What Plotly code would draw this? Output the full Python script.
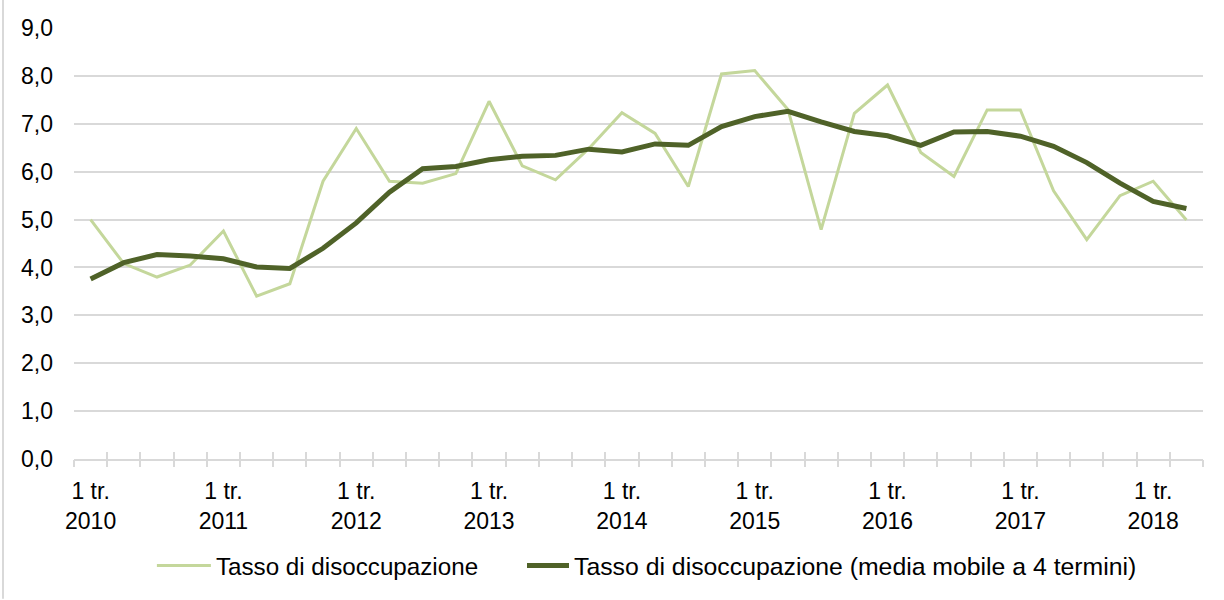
import plotly.graph_objects as go

years = list(range(2010, 2019))
categories = [f"{q} tr. {y}" for y in years for q in (1, 2, 3, 4)][:34]
tick_cats = [f"1 tr. {y}" for y in years]
tick_labels = [f"1 tr.<br>{y}" for y in years]

tasso = [5.0, 4.08, 3.80, 4.05, 4.76, 3.40, 3.66, 5.80,
         6.90, 5.80, 5.76, 5.96, 7.47, 6.12, 5.83, 6.48,
         7.23, 6.80, 5.69, 8.04, 8.11, 7.30, 4.79, 7.22,
         7.81, 6.40, 5.90, 7.29, 7.29, 5.60, 4.58, 5.50,
         5.80, 4.99]
media_mobile = [3.76, 4.10, 4.27, 4.24, 4.18, 4.01, 3.98, 4.40,
                4.93, 5.57, 6.06, 6.11, 6.25, 6.32, 6.34, 6.47,
                6.41, 6.58, 6.55, 6.94, 7.15, 7.26, 7.04, 6.84,
                6.75, 6.55, 6.83, 6.84, 6.74, 6.53, 6.19, 5.76,
                5.38, 5.23]

name1 = "Tasso di disoccupazione"
name2 = "Tasso di disoccupazione (media mobile a 4 termini)"

LIGHT = "#c4d79b"
DARK = "#4f6228"
GRID = "#d9d9d9"
FONT = "Liberation Sans, Arial, sans-serif"
FS = 23

fig = go.Figure()
# helper (invisible) traces so that the tick-mark axes get drawn
for ax in ("x2", "x3"):
    fig.add_trace(go.Scatter(x=categories, y=tasso, xaxis=ax, mode="lines",
                             opacity=0, showlegend=False, hoverinfo="skip",
                             line=dict(width=0)))
fig.add_trace(go.Scatter(x=categories, y=tasso, mode="lines", name=name1,
                         legend="legend", line=dict(color=LIGHT, width=3)))
fig.add_trace(go.Scatter(x=categories, y=media_mobile, mode="lines", name=name2,
                         legend="legend2", line=dict(color=DARK, width=5)))

n = len(categories)
rng = [-0.5, n - 0.5]

tick_axis = dict(overlaying="x", anchor="y", type="category",
                 categoryorder="array", categoryarray=categories, range=rng,
                 tickson="boundaries", ticklen=7, tickwidth=2, tickcolor=GRID,
                 showticklabels=False, showgrid=False, showline=False,
                 zeroline=False)

fig.update_layout(
    width=1224, height=600,
    margin=dict(l=74, r=21, t=28, b=140),
    paper_bgcolor="white", plot_bgcolor="white",
    separators=", ",
    font=dict(family=FONT, size=FS, color="#000000"),
    showlegend=True,
    legend=dict(orientation="h", xanchor="left", yanchor="middle",
                x=0.069, y=-0.245, font=dict(size=24.2), itemwidth=54,
                bgcolor="rgba(0,0,0,0)"),
    legend2=dict(orientation="h", xanchor="left", yanchor="middle",
                 x=448 / 1129, y=-0.245, font=dict(size=24.8), itemwidth=42,
                 bgcolor="rgba(0,0,0,0)"),
    xaxis=dict(type="category", categoryorder="array", categoryarray=categories,
               range=rng, tickmode="array", tickvals=tick_cats, ticktext=tick_labels,
               ticks="", showgrid=False, showline=True, linecolor=GRID, linewidth=2,
               zeroline=False, ticklabelstandoff=10, tickfont=dict(size=FS)),
    xaxis2=dict(tick_axis, ticks="outside"),
    xaxis3=dict(tick_axis, ticks="inside"),
    yaxis=dict(range=[0, 9], dtick=1, tick0=0, tickformat=".1f",
               showgrid=True, gridcolor=GRID, gridwidth=2, zeroline=False,
               showline=False, ticks="", ticklabelstandoff=20,
               tickfont=dict(size=FS)),
    shapes=[dict(type="line", xref="paper", yref="paper",
                 x0=-71 / 1129, x1=-71 / 1129, y0=-140 / 432, y1=1 + 28 / 432,
                 line=dict(color=GRID, width=2))],
)

fig.write_html("out.html", config={"displayModeBar": False},
               post_script="document.body.style.margin='0';")
